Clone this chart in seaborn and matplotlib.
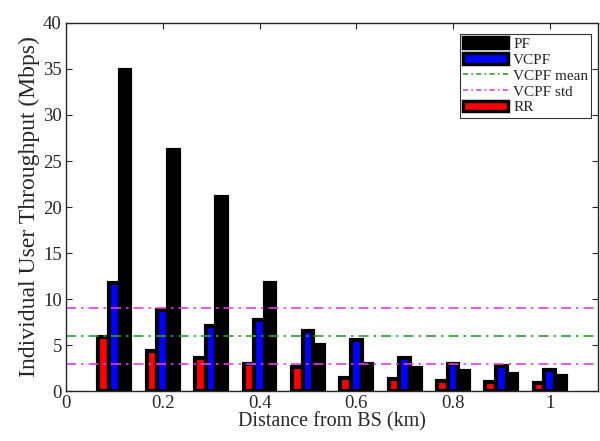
import matplotlib
matplotlib.use("Agg")
import matplotlib.pyplot as plt
import seaborn as sns
import pandas as pd
import numpy as np
from matplotlib.patches import Patch
from matplotlib.lines import Line2D

distance = [0.1, 0.2, 0.3, 0.4, 0.5, 0.6, 0.7, 0.8, 0.9, 1.0]
pf = [34.9, 26.2, 21.1, 11.8, 5.0, 2.9, 2.5, 2.2, 1.9, 1.6]
vcpf = [11.7, 8.8, 7.1, 7.7, 6.5, 5.6, 3.6, 3.0, 2.7, 2.3]
rr = [5.9, 4.4, 3.6, 3.0, 2.6, 1.4, 1.3, 1.15, 1.0, 0.85]
vcpf_mean = 5.95
vcpf_std = 3.05

sns.set_style("ticks")
plt.rcParams['font.family'] = ['Liberation Serif', 'DejaVu Serif']

df = pd.DataFrame({
    "distance": distance * 3,
    "throughput": rr + vcpf + pf,
    "scheme": ["RR"] * 10 + ["VCPF"] * 10 + ["PF"] * 10,
})

fig, ax = plt.subplots(figsize=(6, 4.41), dpi=100)
fig.subplots_adjust(left=0.11, right=0.997, top=0.948, bottom=0.113)

palette = {"RR": "#ff0000", "VCPF": "#0000ff", "PF": "#000000"}
sns.barplot(data=df, x="distance", y="throughput", hue="scheme",
            hue_order=["RR", "VCPF", "PF"], palette=palette,
            native_scale=True, width=0.66, dodge=True, gap=0,
            edgecolor="black", linewidth=3.0, saturation=1,
            legend=False, ax=ax, err_kws={"linewidth": 0})

ls = (0, (6, 3, 1.5, 3))
ax.axhline(vcpf_mean, color="#2ca02c", linestyle=ls, linewidth=1.2)
ax.axhline(vcpf_mean + vcpf_std, color="#e040e0", linestyle=ls, linewidth=1.2)
ax.axhline(vcpf_mean - vcpf_std, color="#e040e0", linestyle=ls, linewidth=1.2)

ax.set_xlim(0, 1.1)
ax.set_ylim(0, 40)
ax.set_xticks([0, 0.2, 0.4, 0.6, 0.8, 1.0])
ax.set_xticklabels(["0", "0.2", "0.4", "0.6", "0.8", "1"])
ax.set_yticks(range(0, 41, 5))
ax.tick_params(direction="in", top=True, right=True, labelsize=13.5, length=4, pad=3)
ax.set_xlabel("Distance from BS (km)", fontsize=14.5, labelpad=0)
ax.set_ylabel("Individual User Throughput (Mbps)", fontsize=17, labelpad=2)
for s in ax.spines.values():
    s.set_linewidth(1.0)

handles = [
    Patch(facecolor="black", edgecolor="black", linewidth=2.5, label="PF"),
    Patch(facecolor="#0000ff", edgecolor="black", linewidth=2.5, label="VCPF"),
    Line2D([], [], color="#2ca02c", linestyle=(0, (3, 2, 1, 2)), linewidth=1.2, label="VCPF mean"),
    Line2D([], [], color="#e040e0", linestyle=(0, (3, 2, 1, 2)), linewidth=1.2, label="VCPF std"),
    Patch(facecolor="#ff0000", edgecolor="black", linewidth=2.5, label="RR"),
]
leg = ax.legend(handles=handles, loc="upper right", fontsize=11, frameon=True,
                fancybox=False, edgecolor="black", handlelength=3.0,
                borderaxespad=0.35, labelspacing=0.15, handletextpad=0.3,
                borderpad=0.2, bbox_to_anchor=(0.997, 0.985))
leg.get_frame().set_linewidth(0.8)

fig.savefig("out.png", dpi=100)
